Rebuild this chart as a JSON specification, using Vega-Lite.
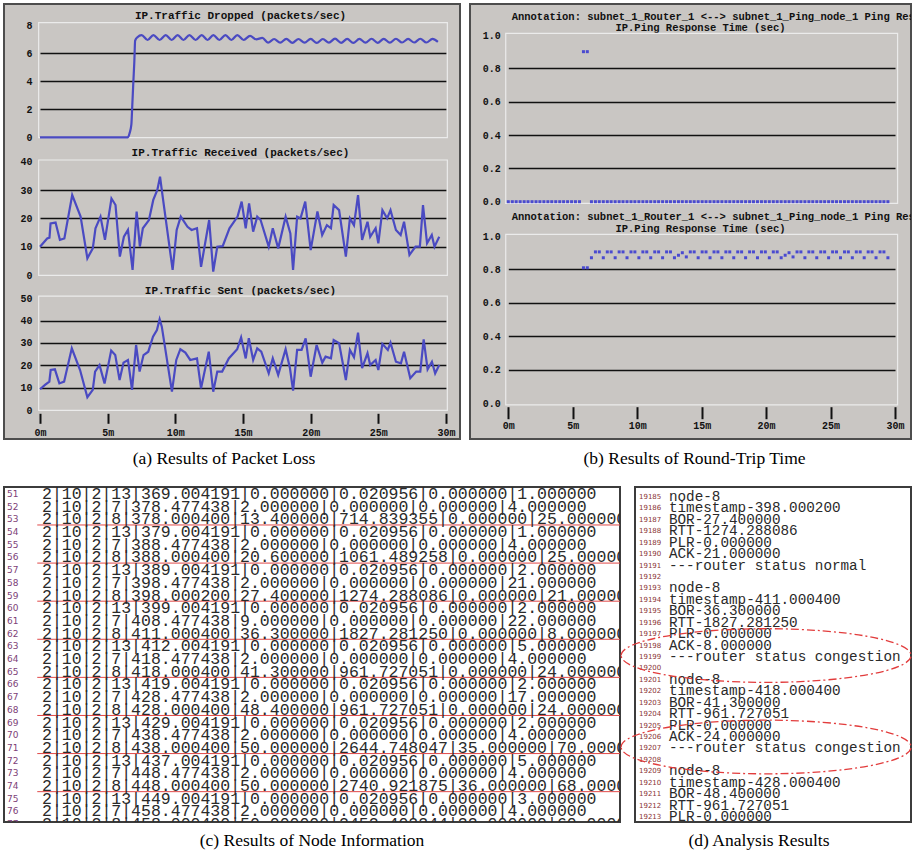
{
"$schema": "https://vega.github.io/schema/vega-lite/v6.json",
"background": "white",
"padding": {"left": 3, "top": 3, "right": 0, "bottom": 0},
"config": {
  "view": {"stroke": null},
  "axis": {"labelFont": "Liberation Mono", "labelFontWeight": "bold", "labelFontSize": 10, "labelColor": "#111", "titleFont": "Liberation Mono", "titleFontWeight": "bold", "titleFontSize": 11, "titleColor": "#111", "domain": false, "ticks": false, "grid": false, "labelFlush": false},
  "axisY": {"grid": true, "gridColor": "#111", "gridWidth": 1.6, "labelPadding": 8, "titleAngle": 0, "titleAlign": "center", "titleBaseline": "middle"},
  "axisX": {"ticks": true, "tickColor": "#111", "tickWidth": 2, "labelPadding": 3}
},
"datasets": {
  "dropped": [{"t":0,"v":0},{"t":6.5,"v":0},{"t":6.62,"v":0.3},{"t":6.75,"v":0.9},{"t":6.82,"v":2.3},{"t":6.9,"v":4.0},{"t":6.97,"v":5.4},{"t":7.03,"v":6.9},{"t":7.2,"v":7.15},{"t":7.51,"v":7.3},{"t":7.95,"v":6.95},{"t":8.38,"v":7.3},{"t":8.84,"v":6.95},{"t":9.29,"v":7.3},{"t":9.73,"v":6.95},{"t":10.17,"v":7.3},{"t":10.6,"v":6.95},{"t":11.04,"v":7.3},{"t":11.5,"v":6.95},{"t":11.95,"v":7.3},{"t":12.38,"v":6.95},{"t":12.81,"v":7.3},{"t":13.25,"v":6.95},{"t":13.7,"v":7.3},{"t":14.14,"v":6.95},{"t":14.58,"v":7.3},{"t":15.05,"v":6.95},{"t":15.52,"v":7.25},{"t":15.97,"v":7.0},{"t":16.43,"v":7.1},{"t":16.85,"v":6.76},{"t":17.3,"v":7.02},{"t":17.75,"v":6.76},{"t":18.2,"v":7.03},{"t":18.65,"v":6.75},{"t":19.1,"v":7.02},{"t":19.55,"v":6.76},{"t":20.0,"v":7.03},{"t":20.45,"v":6.74},{"t":20.9,"v":7.02},{"t":21.35,"v":6.76},{"t":21.8,"v":7.05},{"t":22.25,"v":6.75},{"t":22.7,"v":7.03},{"t":23.15,"v":6.74},{"t":23.6,"v":7.03},{"t":24.05,"v":6.76},{"t":24.5,"v":7.04},{"t":24.95,"v":6.75},{"t":25.4,"v":7.03},{"t":25.85,"v":6.76},{"t":26.3,"v":7.04},{"t":26.75,"v":6.77},{"t":27.2,"v":7.03},{"t":27.65,"v":6.77},{"t":28.1,"v":7.04},{"t":28.55,"v":6.77},{"t":29.0,"v":7.03},{"t":29.4,"v":6.82}],
  "received": [{"t":0,"v":10},{"t":0.53,"v":12.9},{"t":0.7,"v":13.2},{"t":0.78,"v":18.2},{"t":1.15,"v":18.5},{"t":1.47,"v":12.4},{"t":1.8,"v":12.9},{"t":2.38,"v":28.2},{"t":3.0,"v":20.6},{"t":3.5,"v":5.9},{"t":3.9,"v":9.4},{"t":4.1,"v":16.5},{"t":4.47,"v":20.6},{"t":4.8,"v":12.4},{"t":5.28,"v":27},{"t":5.58,"v":24.7},{"t":5.9,"v":6.5},{"t":6.2,"v":13.5},{"t":6.5,"v":15.9},{"t":6.84,"v":1.8},{"t":7.14,"v":22.4},{"t":7.38,"v":10},{"t":7.6,"v":16.5},{"t":8.05,"v":19.4},{"t":8.37,"v":26.5},{"t":8.67,"v":30},{"t":8.87,"v":34.7},{"t":9.0,"v":30},{"t":9.8,"v":1.8},{"t":10.1,"v":15.9},{"t":10.4,"v":20.6},{"t":10.9,"v":17},{"t":11.2,"v":15.9},{"t":11.6,"v":16.5},{"t":11.9,"v":2.9},{"t":12.5,"v":19.4},{"t":12.8,"v":1.2},{"t":13.1,"v":10},{"t":13.5,"v":10.2},{"t":14.0,"v":16.5},{"t":14.6,"v":20.6},{"t":14.9,"v":25.9},{"t":15.2,"v":16.5},{"t":15.45,"v":25.3},{"t":15.75,"v":15.3},{"t":16.05,"v":20.6},{"t":16.3,"v":19.4},{"t":16.9,"v":10},{"t":17.2,"v":16.5},{"t":17.6,"v":9.4},{"t":18.15,"v":20.6},{"t":18.5,"v":14.7},{"t":18.7,"v":1.8},{"t":19.0,"v":20.6},{"t":19.25,"v":20},{"t":19.6,"v":25.9},{"t":20.0,"v":8.8},{"t":20.5,"v":22.4},{"t":20.85,"v":14.1},{"t":21.2,"v":17.6},{"t":21.5,"v":16.5},{"t":21.7,"v":24.7},{"t":22.1,"v":22.9},{"t":22.6,"v":6.5},{"t":22.9,"v":20},{"t":23.2,"v":17.6},{"t":23.5,"v":28.2},{"t":23.8,"v":12.4},{"t":24.2,"v":18.8},{"t":24.4,"v":13.5},{"t":24.8,"v":16.5},{"t":25.0,"v":11.2},{"t":25.3,"v":22.9},{"t":25.65,"v":20},{"t":25.9,"v":22.9},{"t":26.3,"v":15.9},{"t":26.65,"v":14.1},{"t":26.9,"v":18.8},{"t":27.3,"v":7.1},{"t":27.75,"v":10},{"t":28.07,"v":10},{"t":28.3,"v":24.7},{"t":28.6,"v":11.2},{"t":28.95,"v":14.1},{"t":29.15,"v":10},{"t":29.5,"v":13.5}],
  "sent": [{"t":0,"v":9.3},{"t":0.37,"v":11.2},{"t":0.69,"v":12.7},{"t":0.79,"v":17.9},{"t":1.1,"v":18.2},{"t":1.43,"v":11.9},{"t":1.78,"v":12.7},{"t":2.35,"v":27.6},{"t":2.96,"v":17.9},{"t":3.5,"v":5.7},{"t":3.9,"v":9},{"t":4.07,"v":17.2},{"t":4.4,"v":20.1},{"t":4.77,"v":11.9},{"t":5.26,"v":26.6},{"t":5.56,"v":24.6},{"t":5.88,"v":13.4},{"t":6.17,"v":21.2},{"t":6.5,"v":22.4},{"t":6.8,"v":9},{"t":7.1,"v":29.1},{"t":7.36,"v":17.2},{"t":7.65,"v":24.6},{"t":8.0,"v":26.1},{"t":8.35,"v":32.8},{"t":8.64,"v":35.8},{"t":8.84,"v":40.6},{"t":9.0,"v":37.3},{"t":9.75,"v":8.2},{"t":10.07,"v":22.4},{"t":10.37,"v":27.2},{"t":10.74,"v":25.7},{"t":11.1,"v":22.4},{"t":11.6,"v":23.1},{"t":11.9,"v":9.7},{"t":12.47,"v":26.1},{"t":12.8,"v":8.2},{"t":13.1,"v":17.2},{"t":13.46,"v":17.2},{"t":13.95,"v":23.1},{"t":14.57,"v":27.2},{"t":14.86,"v":32.5},{"t":15.2,"v":23.1},{"t":15.43,"v":32.1},{"t":15.75,"v":22.4},{"t":16.05,"v":27.6},{"t":16.35,"v":26.1},{"t":16.9,"v":16.4},{"t":17.2,"v":23.1},{"t":17.6,"v":15.7},{"t":18.15,"v":27.2},{"t":18.47,"v":18.7},{"t":18.7,"v":8.7},{"t":19.0,"v":26.9},{"t":19.33,"v":26.9},{"t":19.63,"v":32.1},{"t":20.0,"v":14.9},{"t":20.44,"v":29.1},{"t":20.86,"v":21.2},{"t":21.1,"v":23.9},{"t":21.5,"v":23.1},{"t":21.7,"v":31.3},{"t":22.1,"v":29.9},{"t":22.6,"v":13.4},{"t":22.9,"v":26.9},{"t":23.2,"v":23.6},{"t":23.5,"v":34.6},{"t":23.8,"v":18.7},{"t":24.2,"v":25.4},{"t":24.4,"v":20.1},{"t":24.8,"v":22.4},{"t":25.0,"v":17.9},{"t":25.3,"v":29.6},{"t":25.7,"v":26.9},{"t":25.9,"v":30.1},{"t":26.3,"v":21.6},{"t":26.67,"v":20.9},{"t":26.9,"v":26.1},{"t":27.36,"v":14.2},{"t":27.8,"v":17.2},{"t":28.1,"v":17.2},{"t":28.35,"v":31.6},{"t":28.64,"v":18.2},{"t":28.96,"v":21.6},{"t":29.2,"v":16.4},{"t":29.5,"v":20.1}],
  "ping1": [{"t":0,"v":0},{"t":0.31,"v":0},{"t":0.61,"v":0},{"t":0.92,"v":0},{"t":1.23,"v":0},{"t":1.53,"v":0},{"t":1.84,"v":0},{"t":2.15,"v":0},{"t":2.45,"v":0},{"t":2.76,"v":0},{"t":3.07,"v":0},{"t":3.37,"v":0},{"t":3.68,"v":0},{"t":3.99,"v":0},{"t":4.29,"v":0},{"t":4.6,"v":0},{"t":4.91,"v":0},{"t":5.21,"v":0},{"t":5.52,"v":0},{"t":5.83,"v":0.9},{"t":6.13,"v":0.9},{"t":6.45,"v":0},{"t":6.76,"v":0},{"t":7.06,"v":0},{"t":7.37,"v":0},{"t":7.68,"v":0},{"t":7.98,"v":0},{"t":8.29,"v":0},{"t":8.6,"v":0},{"t":8.9,"v":0},{"t":9.21,"v":0},{"t":9.52,"v":0},{"t":9.82,"v":0},{"t":10.13,"v":0},{"t":10.44,"v":0},{"t":10.74,"v":0},{"t":11.05,"v":0},{"t":11.36,"v":0},{"t":11.66,"v":0},{"t":11.97,"v":0},{"t":12.28,"v":0},{"t":12.58,"v":0},{"t":12.89,"v":0},{"t":13.2,"v":0},{"t":13.5,"v":0},{"t":13.81,"v":0},{"t":14.12,"v":0},{"t":14.42,"v":0},{"t":14.73,"v":0},{"t":15.04,"v":0},{"t":15.34,"v":0},{"t":15.65,"v":0},{"t":15.96,"v":0},{"t":16.26,"v":0},{"t":16.57,"v":0},{"t":16.88,"v":0},{"t":17.18,"v":0},{"t":17.49,"v":0},{"t":17.8,"v":0},{"t":18.1,"v":0},{"t":18.41,"v":0},{"t":18.72,"v":0},{"t":19.02,"v":0},{"t":19.33,"v":0},{"t":19.64,"v":0},{"t":19.94,"v":0},{"t":20.25,"v":0},{"t":20.56,"v":0},{"t":20.86,"v":0},{"t":21.17,"v":0},{"t":21.48,"v":0},{"t":21.78,"v":0},{"t":22.09,"v":0},{"t":22.4,"v":0},{"t":22.7,"v":0},{"t":23.01,"v":0},{"t":23.32,"v":0},{"t":23.62,"v":0},{"t":23.93,"v":0},{"t":24.24,"v":0},{"t":24.54,"v":0},{"t":24.85,"v":0},{"t":25.16,"v":0},{"t":25.46,"v":0},{"t":25.77,"v":0},{"t":26.08,"v":0},{"t":26.38,"v":0},{"t":26.69,"v":0},{"t":27.0,"v":0},{"t":27.3,"v":0},{"t":27.61,"v":0},{"t":27.92,"v":0},{"t":28.22,"v":0},{"t":28.53,"v":0},{"t":28.84,"v":0},{"t":29.14,"v":0},{"t":29.45,"v":0}],
  "ping2": [{"t":5.83,"v":0.81},{"t":6.13,"v":0.81},{"t":6.45,"v":0.87},{"t":6.76,"v":0.905},{"t":7.06,"v":0.905},{"t":7.37,"v":0.87},{"t":7.68,"v":0.905},{"t":7.98,"v":0.905},{"t":8.29,"v":0.87},{"t":8.6,"v":0.905},{"t":8.9,"v":0.905},{"t":9.21,"v":0.87},{"t":9.52,"v":0.905},{"t":9.82,"v":0.905},{"t":10.13,"v":0.87},{"t":10.44,"v":0.905},{"t":10.74,"v":0.905},{"t":11.05,"v":0.87},{"t":11.36,"v":0.905},{"t":11.66,"v":0.905},{"t":11.97,"v":0.87},{"t":12.28,"v":0.905},{"t":12.58,"v":0.905},{"t":12.89,"v":0.87},{"t":13.2,"v":0.885},{"t":13.5,"v":0.9},{"t":13.81,"v":0.875},{"t":14.12,"v":0.905},{"t":14.42,"v":0.905},{"t":14.73,"v":0.87},{"t":15.04,"v":0.905},{"t":15.34,"v":0.905},{"t":15.65,"v":0.87},{"t":15.96,"v":0.905},{"t":16.26,"v":0.905},{"t":16.57,"v":0.87},{"t":16.88,"v":0.905},{"t":17.18,"v":0.905},{"t":17.49,"v":0.87},{"t":17.8,"v":0.905},{"t":18.1,"v":0.905},{"t":18.41,"v":0.87},{"t":18.72,"v":0.905},{"t":19.02,"v":0.905},{"t":19.33,"v":0.87},{"t":19.64,"v":0.905},{"t":19.94,"v":0.905},{"t":20.25,"v":0.87},{"t":20.56,"v":0.905},{"t":20.86,"v":0.905},{"t":21.17,"v":0.87},{"t":21.48,"v":0.885},{"t":21.78,"v":0.9},{"t":22.09,"v":0.875},{"t":22.4,"v":0.905},{"t":22.7,"v":0.905},{"t":23.01,"v":0.87},{"t":23.32,"v":0.905},{"t":23.62,"v":0.905},{"t":23.93,"v":0.87},{"t":24.24,"v":0.905},{"t":24.54,"v":0.905},{"t":24.85,"v":0.87},{"t":25.16,"v":0.905},{"t":25.46,"v":0.905},{"t":25.77,"v":0.87},{"t":26.08,"v":0.905},{"t":26.38,"v":0.905},{"t":26.69,"v":0.87},{"t":27.0,"v":0.905},{"t":27.3,"v":0.905},{"t":27.61,"v":0.87},{"t":27.92,"v":0.905},{"t":28.22,"v":0.905},{"t":28.53,"v":0.87},{"t":28.84,"v":0.905},{"t":29.14,"v":0.905},{"t":29.45,"v":0.87}],
  "annot": [{"chart": "B1", "text": "Annotation: subnet_1_Router_1 <--> subnet_1_Ping_node_1 Ping Response Time"}, {"chart": "B2", "text": "Annotation: subnet_1_Router_1 <--> subnet_1_Ping_node_1 Ping Response Time"}],
  "nodeinfo": [
    {"line": 51, "text": "2|10|2|13|369.004191|0.000000|0.020956|0.000000|1.000000"},
    {"line": 52, "text": "2|10|2|7|378.477438|2.000000|0.000000|0.000000|4.000000"},
    {"line": 53, "text": "2|10|2|8|378.000400|13.400000|714.839355|0.000000|25.000000"},
    {"line": 54, "text": "2|10|2|13|379.004191|0.000000|0.020956|0.000000|1.000000"},
    {"line": 55, "text": "2|10|2|7|388.477438|2.000000|0.000000|0.000000|4.000000"},
    {"line": 56, "text": "2|10|2|8|388.000400|20.600000|1061.489258|0.000000|25.000000"},
    {"line": 57, "text": "2|10|2|13|389.004191|0.000000|0.020956|0.000000|2.000000"},
    {"line": 58, "text": "2|10|2|7|398.477438|2.000000|0.000000|0.000000|21.000000"},
    {"line": 59, "text": "2|10|2|8|398.000200|27.400000|1274.288086|0.000000|21.000000"},
    {"line": 60, "text": "2|10|2|13|399.004191|0.000000|0.020956|0.000000|2.000000"},
    {"line": 61, "text": "2|10|2|7|408.477438|9.000000|0.000000|0.000000|22.000000"},
    {"line": 62, "text": "2|10|2|8|411.000400|36.300000|1827.281250|0.000000|8.000000"},
    {"line": 63, "text": "2|10|2|13|412.004191|0.000000|0.020956|0.000000|5.000000"},
    {"line": 64, "text": "2|10|2|7|418.477438|2.000000|0.000000|0.000000|4.000000"},
    {"line": 65, "text": "2|10|2|8|418.000400|41.300000|961.727051|0.000000|24.000000"},
    {"line": 66, "text": "2|10|2|13|419.004191|0.000000|0.020956|0.000000|2.000000"},
    {"line": 67, "text": "2|10|2|7|428.477438|2.000000|0.000000|0.000000|17.000000"},
    {"line": 68, "text": "2|10|2|8|428.000400|48.400000|961.727051|0.000000|24.000000"},
    {"line": 69, "text": "2|10|2|13|429.004191|0.000000|0.020956|0.000000|2.000000"},
    {"line": 70, "text": "2|10|2|7|438.477438|2.000000|0.000000|0.000000|4.000000"},
    {"line": 71, "text": "2|10|2|8|438.000400|50.000000|2644.748047|35.000000|70.000000"},
    {"line": 72, "text": "2|10|2|13|437.004191|0.000000|0.020956|0.000000|5.000000"},
    {"line": 73, "text": "2|10|2|7|448.477438|2.000000|0.000000|0.000000|4.000000"},
    {"line": 74, "text": "2|10|2|8|448.000400|50.000000|2740.921875|36.000000|68.000000"},
    {"line": 75, "text": "2|10|2|13|449.004191|0.000000|0.020956|0.000000|3.000000"},
    {"line": 76, "text": "2|10|2|7|458.477438|2.000000|0.000000|0.000000|4.000000"},
    {"line": 77, "text": "2|10|2|8|458.000400|50.000000|2452.402344|32.000000|60.000000"}
  ],
  "analysis": [
    {"line": 19185, "text": "node-8"},
    {"line": 19186, "text": "timestamp-398.000200"},
    {"line": 19187, "text": "BOR-27.400000"},
    {"line": 19188, "text": "RTT-1274.288086"},
    {"line": 19189, "text": "PLR-0.000000"},
    {"line": 19190, "text": "ACK-21.000000"},
    {"line": 19191, "text": "---router status normal"},
    {"line": 19192, "text": ""},
    {"line": 19193, "text": "node-8"},
    {"line": 19194, "text": "timestamp-411.000400"},
    {"line": 19195, "text": "BOR-36.300000"},
    {"line": 19196, "text": "RTT-1827.281250"},
    {"line": 19197, "text": "PLR-0.000000"},
    {"line": 19198, "text": "ACK-8.000000"},
    {"line": 19199, "text": "---router status congestion"},
    {"line": 19200, "text": ""},
    {"line": 19201, "text": "node-8"},
    {"line": 19202, "text": "timestamp-418.000400"},
    {"line": 19203, "text": "BOR-41.300000"},
    {"line": 19204, "text": "RTT-961.727051"},
    {"line": 19205, "text": "PLR-0.000000"},
    {"line": 19206, "text": "ACK-24.000000"},
    {"line": 19207, "text": "---router status congestion"},
    {"line": 19208, "text": ""},
    {"line": 19209, "text": "node-8"},
    {"line": 19210, "text": "timestamp-428.000400"},
    {"line": 19211, "text": "BOR-48.400000"},
    {"line": 19212, "text": "RTT-961.727051"},
    {"line": 19213, "text": "PLR-0.000000"}
  ],
  "plotareas": [{"chart": "A1"}, {"chart": "A2"}, {"chart": "A3"}, {"chart": "B1"}, {"chart": "B2"}]
},
"spacing": 17,
"vconcat": [
 {"spacing": 8, "hconcat": [
  {
   "width": 456, "height": 435,
   "view": {"fill": "#c9c6c3", "stroke": "#4d4d4d", "strokeWidth": 2},
   "title": {"text": "(a) Results of Packet Loss", "orient": "bottom", "anchor": "middle", "frame": "group", "offset": 11, "font": "Liberation Serif", "fontSize": 17.5, "fontWeight": "normal", "color": "#000", "dx": -8},
   "resolve": {"scale": {"y": "independent"}, "axis": {"y": "independent"}},
   "layer": [
      {"data": {"name": "plotareas"}, "transform": [{"filter": "datum.chart === 'A1'"}], "mark": {"type": "rect", "fillOpacity": 0, "stroke": "#ebebeb", "strokeWidth": 1.2},
       "encoding": {"x": {"datum": -0.1, "type": "quantitative", "scale": {"domain": [0, 30], "range": [36, 442], "nice": false, "zero": false},
                          "axis": {"values": [0, 5, 10, 15, 20, 25, 30], "labelExpr": "datum.value + 'm'", "orient": "bottom", "offset": -25.7, "tickSize": 10, "labelPadding": 4, "title": null}},
                    "x2": {"datum": 30.1},
                    "y": {"datum": -0.03, "type": "quantitative", "scale": {"domain": [0, 8], "range": [133.3, 21.3], "nice": false, "zero": false}, "axis": null},
                    "y2": {"datum": 8.19}}},
      {"data": {"name": "plotareas"}, "transform": [{"filter": "datum.chart === 'A2'"}], "mark": {"type": "rect", "fillOpacity": 0, "stroke": "#ebebeb", "strokeWidth": 1.2},
       "encoding": {"x": {"datum": -0.1, "type": "quantitative", "scale": {"domain": [0, 30], "range": [36, 442], "nice": false, "zero": false},
                          "axis": {"values": [0, 5, 10, 15, 20, 25, 30], "labelExpr": "datum.value + 'm'", "orient": "bottom", "offset": -25.7, "tickSize": 10, "labelPadding": 4, "title": null}},
                    "x2": {"datum": 30.1},
                    "y": {"datum": -0.15, "type": "quantitative", "scale": {"domain": [0, 40], "range": [271, 157.7], "nice": false, "zero": false}, "axis": null},
                    "y2": {"datum": 40.6}}},
      {"data": {"name": "plotareas"}, "transform": [{"filter": "datum.chart === 'A3'"}], "mark": {"type": "rect", "fillOpacity": 0, "stroke": "#ebebeb", "strokeWidth": 1.2},
       "encoding": {"x": {"datum": -0.1, "type": "quantitative", "scale": {"domain": [0, 30], "range": [36, 442], "nice": false, "zero": false},
                          "axis": {"values": [0, 5, 10, 15, 20, 25, 30], "labelExpr": "datum.value + 'm'", "orient": "bottom", "offset": -25.7, "tickSize": 10, "labelPadding": 4, "title": null}},
                    "x2": {"datum": 30.1},
                    "y": {"datum": -0.2, "type": "quantitative", "scale": {"domain": [0, 50], "range": [406, 294.3], "nice": false, "zero": false}, "axis": null},
                    "y2": {"datum": 51}}},
      {"data": {"name": "dropped"}, "mark": {"type": "line", "color": "#4a4ac2", "strokeWidth": 2.2, "interpolate": "monotone"},
       "encoding": {"x": {"field": "t", "type": "quantitative", "scale": {"domain": [0, 30], "range": [36, 442], "nice": false, "zero": false},
                          "axis": {"values": [0, 5, 10, 15, 20, 25, 30], "labelExpr": "datum.value + 'm'", "orient": "bottom", "offset": -25.7, "tickSize": 10, "labelPadding": 4, "title": null}},
                    "y": {"field": "v", "type": "quantitative", "scale": {"domain": [0, 8], "range": [133.3, 21.3], "nice": false, "zero": false},
                          "axis": {"values": [0, 2, 4, 6, 8], "orient": "left", "offset": -36, "grid": true, "title": "IP.Traffic Dropped (packets/sec)", "titleX": 200, "titleY": 11.7,
                                   "gridOpacity": {"condition": {"test": "datum.value === 0 || datum.value === 8", "value": 0}, "value": 1}}}}},
      {"data": {"name": "received"}, "mark": {"type": "line", "color": "#4a4ac2", "strokeWidth": 2.2},
       "encoding": {"x": {"field": "t", "type": "quantitative", "scale": {"domain": [0, 30], "range": [36, 442], "nice": false, "zero": false},
                          "axis": {"values": [0, 5, 10, 15, 20, 25, 30], "labelExpr": "datum.value + 'm'", "orient": "bottom", "offset": -25.7, "tickSize": 10, "labelPadding": 4, "title": null}},
                    "y": {"field": "v", "type": "quantitative", "scale": {"domain": [0, 40], "range": [271, 157.7], "nice": false, "zero": false},
                          "axis": {"values": [0, 10, 20, 30, 40], "orient": "left", "offset": -36, "grid": true, "title": "IP.Traffic Received (packets/sec)", "titleX": 200, "titleY": 148.7,
                                   "gridOpacity": {"condition": {"test": "datum.value === 0 || datum.value === 40", "value": 0}, "value": 1}}}}},
      {"data": {"name": "sent"}, "mark": {"type": "line", "color": "#4a4ac2", "strokeWidth": 2.2},
       "encoding": {"x": {"field": "t", "type": "quantitative", "scale": {"domain": [0, 30], "range": [36, 442], "nice": false, "zero": false},
                          "axis": {"values": [0, 5, 10, 15, 20, 25, 30], "labelExpr": "datum.value + 'm'", "orient": "bottom", "offset": -25.7, "tickSize": 10, "labelPadding": 4, "title": null}},
                    "y": {"field": "v", "type": "quantitative", "scale": {"domain": [0, 50], "range": [406, 294.3], "nice": false, "zero": false},
                          "axis": {"values": [0, 10, 20, 30, 40, 50], "orient": "left", "offset": -36, "grid": true, "title": "IP.Traffic Sent (packets/sec)", "titleX": 200, "titleY": 286,
                                   "gridOpacity": {"condition": {"test": "datum.value === 0 || datum.value === 50", "value": 0}, "value": 1}}}}}
   ]
  },
  {
   "width": 441, "height": 435,
   "view": {"fill": "#c9c6c3", "stroke": "#4d4d4d", "strokeWidth": 2},
   "title": {"text": "(b) Results of Round-Trip Time", "orient": "bottom", "anchor": "middle", "frame": "group", "offset": 11, "font": "Liberation Serif", "fontSize": 17.5, "fontWeight": "normal", "color": "#000", "dx": 4},
   "resolve": {"scale": {"y": "independent"}, "axis": {"y": "independent"}},
   "layer": [
      {"data": {"name": "plotareas"}, "transform": [{"filter": "datum.chart === 'B1'"}], "mark": {"type": "rect", "fillOpacity": 0, "stroke": "#ebebeb", "strokeWidth": 1.2},
       "encoding": {"x": {"datum": -0.2, "type": "quantitative", "scale": {"domain": [0, 30], "range": [38.3, 425], "nice": false, "zero": false},
                          "axis": {"values": [0, 5, 10, 15, 20, 25, 30], "labelExpr": "datum.value + 'm'", "orient": "bottom", "offset": -32.3, "tickSize": 12, "labelPadding": 2, "title": null}},
                    "x2": {"datum": 30.2},
                    "y": {"datum": -0.01, "type": "quantitative", "scale": {"domain": [0, 1], "range": [197.7, 31], "nice": false, "zero": false}, "axis": null},
                    "y2": {"datum": 1.01}}},
      {"data": {"name": "plotareas"}, "transform": [{"filter": "datum.chart === 'B2'"}], "mark": {"type": "rect", "fillOpacity": 0, "stroke": "#ebebeb", "strokeWidth": 1.2},
       "encoding": {"x": {"datum": -0.2, "type": "quantitative", "scale": {"domain": [0, 30], "range": [38.3, 425], "nice": false, "zero": false},
                          "axis": {"values": [0, 5, 10, 15, 20, 25, 30], "labelExpr": "datum.value + 'm'", "orient": "bottom", "offset": -32.3, "tickSize": 12, "labelPadding": 2, "title": null}},
                    "x2": {"datum": 30.2},
                    "y": {"datum": -0.01, "type": "quantitative", "scale": {"domain": [0, 1], "range": [399.3, 232], "nice": false, "zero": false}, "axis": null},
                    "y2": {"datum": 1.01}}},
      {"data": {"name": "ping1"}, "mark": {"type": "point", "shape": "square", "filled": true, "size": 9, "color": "#4a4ad0", "opacity": 1},
       "encoding": {"x": {"field": "t", "type": "quantitative", "scale": {"domain": [0, 30], "range": [38.3, 425], "nice": false, "zero": false},
                          "axis": {"values": [0, 5, 10, 15, 20, 25, 30], "labelExpr": "datum.value + 'm'", "orient": "bottom", "offset": -32.3, "tickSize": 12, "labelPadding": 2, "title": null}},
                    "y": {"field": "v", "type": "quantitative", "scale": {"domain": [0, 1], "range": [197.7, 31], "nice": false, "zero": false},
                          "axis": {"values": [0, 0.2, 0.4, 0.6, 0.8, 1.0], "format": ".1f", "orient": "left", "offset": -38.3, "grid": true, "title": "IP.Ping Response Time (sec)", "titleX": 191.7, "titleY": 23.3, "titleFontSize": 10.5,
                                   "gridOpacity": {"condition": {"test": "datum.value === 0 || datum.value === 1", "value": 0}, "value": 1}}}}},
      {"data": {"name": "ping2"}, "mark": {"type": "point", "shape": "square", "filled": true, "size": 9, "color": "#4a4ad0", "opacity": 1},
       "encoding": {"x": {"field": "t", "type": "quantitative", "scale": {"domain": [0, 30], "range": [38.3, 425], "nice": false, "zero": false},
                          "axis": {"values": [0, 5, 10, 15, 20, 25, 30], "labelExpr": "datum.value + 'm'", "orient": "bottom", "offset": -32.3, "tickSize": 12, "labelPadding": 2, "title": null}},
                    "y": {"field": "v", "type": "quantitative", "scale": {"domain": [0, 1], "range": [399.3, 232], "nice": false, "zero": false},
                          "axis": {"values": [0, 0.2, 0.4, 0.6, 0.8, 1.0], "format": ".1f", "orient": "left", "offset": -38.3, "grid": true, "title": "IP.Ping Response Time (sec)", "titleX": 191.7, "titleY": 224.3, "titleFontSize": 10.5,
                                   "gridOpacity": {"condition": {"test": "datum.value === 0 || datum.value === 1", "value": 0}, "value": 1}}}}},
      {"data": {"name": "annot"}, "transform": [{"filter": "datum.chart === 'B1'"}], "mark": {"type": "text", "align": "left", "baseline": "middle", "font": "Liberation Mono", "fontWeight": "bold", "fontSize": 10.5, "color": "#111", "clip": true},
       "encoding": {"x": {"datum": 0.26, "type": "quantitative", "scale": {"domain": [0, 30], "range": [38.3, 425], "nice": false, "zero": false},
                          "axis": {"values": [0, 5, 10, 15, 20, 25, 30], "labelExpr": "datum.value + 'm'", "orient": "bottom", "offset": -32.3, "tickSize": 12, "labelPadding": 2, "title": null}},
                    "y": {"datum": 1.11, "type": "quantitative", "scale": {"domain": [0, 1], "range": [197.7, 31], "nice": false, "zero": false}, "axis": null},
                    "text": {"field": "text"}}},
      {"data": {"name": "annot"}, "transform": [{"filter": "datum.chart === 'B2'"}], "mark": {"type": "text", "align": "left", "baseline": "middle", "font": "Liberation Mono", "fontWeight": "bold", "fontSize": 10.5, "color": "#111", "clip": true},
       "encoding": {"x": {"datum": 0.26, "type": "quantitative", "scale": {"domain": [0, 30], "range": [38.3, 425], "nice": false, "zero": false},
                          "axis": {"values": [0, 5, 10, 15, 20, 25, 30], "labelExpr": "datum.value + 'm'", "orient": "bottom", "offset": -32.3, "tickSize": 12, "labelPadding": 2, "title": null}},
                    "y": {"datum": 1.115, "type": "quantitative", "scale": {"domain": [0, 1], "range": [399.3, 232], "nice": false, "zero": false}, "axis": null},
                    "text": {"field": "text"}}}
   ]
  }
 ]},
 {"spacing": -4, "hconcat": [
  {
   "width": 616, "height": 335,
   "view": {"fill": "white", "stroke": "#3c3c3c", "strokeWidth": 2},
   "title": {"text": "(c) Results of Node Information", "orient": "bottom", "anchor": "middle", "frame": "group", "offset": 10, "font": "Liberation Serif", "fontSize": 17.5, "fontWeight": "normal", "color": "#000"},
   "data": {"name": "nodeinfo"},
   "layer": [
    {"transform": [{"filter": "datum.line % 3 === 2"}], "mark": {"type": "rule", "color": "#e04848", "strokeWidth": 1, "yOffset": 5.6, "clip": true},
     "encoding": {"x": {"datum": 5.4, "type": "quantitative", "scale": {"domain": [0, 100], "nice": false, "zero": false}, "axis": null}, "x2": {"datum": 100},
                  "y": {"field": "line", "type": "quantitative", "scale": {"domain": [50.45, 76.83], "reverse": true, "nice": false, "zero": false}, "axis": null}}},
    {"mark": {"type": "text", "align": "left", "baseline": "middle", "font": "DejaVu Sans", "fontSize": 9, "color": "#7d3f78", "clip": true},
     "encoding": {"x": {"datum": 0.5, "type": "quantitative", "scale": {"domain": [0, 100], "nice": false, "zero": false}, "axis": null},
                  "y": {"field": "line", "type": "quantitative", "scale": {"domain": [50.45, 76.83], "reverse": true, "nice": false, "zero": false}, "axis": null},
                  "text": {"field": "line"}}},
    {"mark": {"type": "text", "align": "left", "baseline": "middle", "font": "Liberation Mono", "fontSize": 16.5, "color": "#2a2a2a", "clip": true},
     "encoding": {"x": {"datum": 6.17, "type": "quantitative", "scale": {"domain": [0, 100], "nice": false, "zero": false}, "axis": null},
                  "y": {"field": "line", "type": "quantitative", "scale": {"domain": [50.45, 76.83], "reverse": true, "nice": false, "zero": false}, "axis": null},
                  "text": {"field": "text"}}}
   ]
  },
  {
   "width": 276, "height": 335,
   "view": {"fill": "white", "stroke": "#3c3c3c", "strokeWidth": 2},
   "title": {"text": "(d) Analysis Results", "orient": "bottom", "anchor": "middle", "frame": "group", "offset": 10, "font": "Liberation Serif", "fontSize": 17.5, "fontWeight": "normal", "color": "#000", "dx": -14},
   "data": {"name": "analysis"},
   "layer": [
    {"mark": {"type": "text", "align": "left", "baseline": "middle", "font": "DejaVu Sans", "fontSize": 7, "color": "#8a3535", "clip": true},
     "encoding": {"x": {"datum": 1.45, "type": "quantitative", "scale": {"domain": [0, 100], "nice": false, "zero": false}, "axis": null},
                  "y": {"field": "line", "type": "quantitative", "scale": {"domain": [19184.125, 19213.43], "reverse": true, "nice": false, "zero": false}, "axis": null},
                  "text": {"field": "line"}}},
    {"mark": {"type": "text", "align": "left", "baseline": "middle", "font": "Liberation Mono", "fontSize": 14.3, "color": "#2a2a2a", "clip": true},
     "encoding": {"x": {"datum": 12.3, "type": "quantitative", "scale": {"domain": [0, 100], "nice": false, "zero": false}, "axis": null},
                  "y": {"field": "line", "type": "quantitative", "scale": {"domain": [19184.125, 19213.43], "reverse": true, "nice": false, "zero": false}, "axis": null},
                  "text": {"field": "text"}}},
    {"transform": [{"filter": "indexof(datum.text, 'congestion') >= 0"}],
     "mark": {"type": "point", "shape": "M-1,0A1,0.185,0,1,1,1,0A1,0.185,0,1,1,-1,0Z", "size": 84100, "filled": false, "stroke": "#e23c3c", "strokeWidth": 1.3, "strokeDash": [8, 3, 2, 3], "opacity": 1, "yOffset": -1.5},
     "encoding": {"x": {"datum": 47.5, "type": "quantitative", "scale": {"domain": [0, 100], "nice": false, "zero": false}, "axis": null},
                  "y": {"field": "line", "type": "quantitative", "scale": {"domain": [19184.125, 19213.43], "reverse": true, "nice": false, "zero": false}, "axis": null}}}
   ]
  }
 ]}
]
}
